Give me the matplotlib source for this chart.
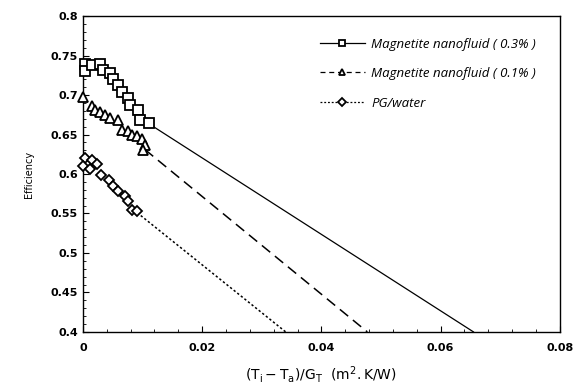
import matplotlib.pyplot as plt
from matplotlib.ticker import MultipleLocator

x_03 = [0.0003, 0.0003, 0.0015, 0.0029, 0.0034, 0.0045, 0.0051, 0.0059,
        0.0065, 0.0076, 0.0079, 0.0093, 0.0096, 0.0110]
eff_03 = [0.740, 0.730, 0.738, 0.740, 0.732, 0.728, 0.721, 0.713,
          0.704, 0.696, 0.688, 0.681, 0.669, 0.665]

x_01 = [0.0000, 0.0015, 0.0020, 0.0029, 0.0037, 0.0045, 0.0059, 0.0065,
        0.0076, 0.0082, 0.0090, 0.0099, 0.0104, 0.0101]
eff_01 = [0.698, 0.686, 0.681, 0.679, 0.675, 0.671, 0.669, 0.656,
          0.654, 0.650, 0.648, 0.644, 0.637, 0.631]

x_pg = [0.0003, 0.0015, 0.0023, 0.0000, 0.0012, 0.0031, 0.0043, 0.0051,
        0.0059, 0.0071, 0.0076, 0.0082, 0.0090]
eff_pg = [0.620, 0.618, 0.613, 0.610, 0.606, 0.599, 0.593, 0.585,
          0.578, 0.572, 0.566, 0.555, 0.553]

# extrapolated efficiency lines (start, end)
fit_x_03 = [0.0110, 0.0655]
fit_y_03 = [0.664, 0.400]
fit_x_01 = [0.0104, 0.0477]
fit_y_01 = [0.631, 0.400]
fit_x_pg = [0.0091, 0.0340]
fit_y_pg = [0.551, 0.400]

labels = ["Magnetite nanofluid ( 0.3% )", "Magnetite nanofluid ( 0.1% )", "PG/water"]

fig = plt.figure(figsize=(5.76, 3.85), dpi=100)
ax = fig.add_axes([0.144, 0.138, 0.828, 0.820])

mk = dict(mfc='white', mec='black', mew=1.3, ls='none', clip_on=False, zorder=3)
ax.plot(x_03, eff_03, marker='s', ms=7.5, **mk)
ax.plot(x_01, eff_01, marker='^', ms=7.5, **mk)
ax.plot(x_pg, eff_pg, marker='D', ms=5.5, **mk)

ax.plot(fit_x_03, fit_y_03, color='black', lw=0.9, ls='-')
ax.plot(fit_x_01, fit_y_01, color='black', lw=1.1, ls=(0, (7, 4)))
ax.plot(fit_x_pg, fit_y_pg, color='black', lw=1.1, ls=(0, (1.5, 1.5)))

# legend proxies
h1, = ax.plot([], [], color='black', lw=0.9, ls='-', marker='s', ms=5,
              mfc='white', mec='black', mew=1.3)
h2, = ax.plot([], [], color='black', lw=0.9, ls=(0, (4, 3)), marker='^', ms=5,
              mfc='white', mec='black', mew=1.3)
h3, = ax.plot([], [], color='black', lw=0.9, ls=(0, (1.5, 1.5)), marker='D', ms=4,
              mfc='white', mec='black', mew=1.3)
leg = ax.legend([h1, h2, h3], labels, loc='upper right', bbox_to_anchor=(0.975, 0.97),
                frameon=False, handlelength=3.4, handletextpad=0.5, labelspacing=1.25,
                prop={'style': 'italic', 'size': 9.5, 'family': 'Open Sans'})

ax.set_xlim(0, 0.08)
ax.set_ylim(0.4, 0.8)
ax.xaxis.set_major_locator(MultipleLocator(0.02))
ax.xaxis.set_minor_locator(MultipleLocator(0.004))
ax.yaxis.set_major_locator(MultipleLocator(0.05))
ax.yaxis.set_minor_locator(MultipleLocator(0.01))
ax.xaxis.set_major_formatter(plt.FuncFormatter(lambda v, p: '0' if v == 0 else f'{v:g}'))
ax.yaxis.set_major_formatter(plt.FuncFormatter(lambda v, p: f'{v:g}'))
ax.tick_params(which='both', direction='in', labelsize=8)
ax.tick_params(which='major', length=4)
ax.tick_params(which='minor', length=2.5)
ax.tick_params(axis='x', pad=8)
for lbl in ax.get_xticklabels() + ax.get_yticklabels():
    lbl.set_fontweight('semibold')

for s in ax.spines.values():
    s.set_linewidth(1.0)

ax.set_ylabel('Efficiency', fontsize=7, labelpad=12)
ax.set_xlabel(r'$\mathrm{(T_i - T_a)/G_T\ \ (m^2.K/W)}$', fontsize=10, labelpad=8,
              family='DejaVu Serif')

fig.savefig('out.png', dpi=100)
